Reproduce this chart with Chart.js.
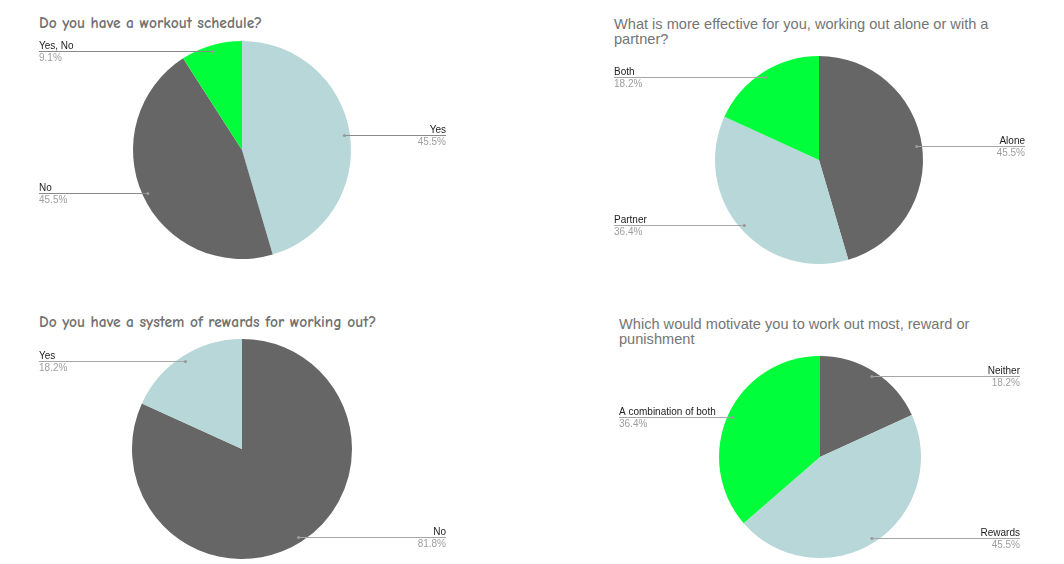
<!DOCTYPE html>
<html>
<head>
<meta charset="utf-8">
<script src="https://cdn.jsdelivr.net/npm/chart.js@4/dist/chart.umd.min.js"></script>
<style>
  html, body { margin: 0; padding: 0; background: #ffffff; }
  #wrap { position: relative; width: 1064px; height: 564px; overflow: hidden; }
  canvas { position: absolute; }
  .title { position: absolute; color: #6f6f6f; white-space: nowrap; }
  .comic { font-family: "Comic Sans MS", "Comic Neue", "DejaVu Sans", sans-serif; font-size: 15.5px; line-height: 17px; font-weight: bold; color: #707070; }
  .sans { font-family: "Liberation Sans", Arial, sans-serif; font-size: 14.6px; line-height: 14.5px; color: #757575; }
</style>
</head>
<body>
<div id="wrap">
  <div class="title comic" style="left:39px; top:15px;">Do you have a workout schedule?</div>
  <div class="title sans" style="left:614px; top:17px;">What is more effective for you, working out alone or with a<br>partner?</div>
  <div class="title comic" style="left:39px; top:314px;">Do you have a system of rewards for working out?</div>
  <div class="title sans" style="left:619px; top:317px;">Which would motivate you to work out most, reward or<br>punishment</div>
  <canvas id="c1" width="532" height="282" style="left:0px; top:0px;"></canvas>
  <canvas id="c2" width="532" height="282" style="left:532px; top:0px;"></canvas>
  <canvas id="c3" width="532" height="282" style="left:0px; top:282px;"></canvas>
  <canvas id="c4" width="532" height="282" style="left:532px; top:282px;"></canvas>
</div>
<script>
// ---- data ----
const scheduleLabels = ['Yes', 'No', 'Yes, No'];
const scheduleValues = [45.5, 45.5, 9.1];

const partnerLabels = ['Alone', 'Partner', 'Both'];
const partnerValues = [45.5, 36.4, 18.2];

const rewardsSystemLabels = ['No', 'Yes'];
const rewardsSystemValues = [81.8, 18.2];

const motivateLabels = ['Neither', 'Rewards', 'A combination of both'];
const motivateValues = [18.2, 45.5, 36.4];

// ---- styles ----
const LIGHT = '#b7d7d8';
const GRAY = '#666666';
const GREEN = '#00ff3a';

const leaderPlugin = {
  id: 'leader',
  afterDatasetsDraw(chart, args, opts) {
    const ctx = chart.ctx;
    const meta = chart.getDatasetMeta(0);
    const ds = chart.data.datasets[0];
    meta.data.forEach((arc, i) => {
      const p = arc.getProps(['x', 'y', 'startAngle', 'endAngle', 'outerRadius'], true);
      const mid = (p.startAngle + p.endAngle) / 2;
      const px = p.x + Math.cos(mid) * p.outerRadius * 0.95;
      const py = Math.round(p.y + Math.sin(mid) * p.outerRadius * 0.95) + 0.5;
      const right = Math.cos(mid) > 0;
      const lx = right ? opts.rightX : opts.leftX;
      ctx.save();
      ctx.strokeStyle = opts.lineColor || '#a6a6a6';
      ctx.lineWidth = 1;
      ctx.beginPath();
      ctx.moveTo(px, py);
      ctx.lineTo(lx, py);
      ctx.stroke();
      ctx.fillStyle = '#9a9a9a';
      ctx.beginPath();
      ctx.arc(px, py, 1.6, 0, Math.PI * 2);
      ctx.fill();
      ctx.font = '10px "Liberation Sans", Arial, sans-serif';
      ctx.textAlign = right ? 'right' : 'left';
      ctx.textBaseline = 'alphabetic';
      ctx.fillStyle = '#222222';
      ctx.fillText(chart.data.labels[i], lx, py - 2.5);
      ctx.fillStyle = '#9e9e9e';
      ctx.fillText(ds.data[i].toFixed(1) + '%', lx, py + 9);
      ctx.restore();
    });
  }
};

function makePie(id, labels, values, colors, padding, leader) {
  new Chart(document.getElementById(id), {
    type: 'pie',
    data: {
      labels: labels,
      datasets: [{
        data: values,
        backgroundColor: colors,
        borderWidth: 0,
        hoverOffset: 0,
        offset: 0
      }]
    },
    options: {
      responsive: false,
      animation: false,
      events: [],
      layout: { padding: padding },
      plugins: {
        legend: { display: false },
        tooltip: { enabled: false },
        title: { display: false },
        leader: leader
      }
    },
    plugins: [leaderPlugin]
  });
}

makePie('c1', scheduleLabels, scheduleValues, [LIGHT, GRAY, GREEN],
  { left: 133, right: 181, top: 41, bottom: 23 },
  { leftX: 39, rightX: 446, lineColor: '#8a8a8a' });

makePie('c2', partnerLabels, partnerValues, [GRAY, LIGHT, GREEN],
  { left: 183, right: 141, top: 56, bottom: 18 },
  { leftX: 82, rightX: 493 });

makePie('c3', rewardsSystemLabels, rewardsSystemValues, [GRAY, LIGHT],
  { left: 132, right: 180, top: 57, bottom: 5 },
  { leftX: 39, rightX: 446 });

makePie('c4', motivateLabels, motivateValues, [GRAY, LIGHT, GREEN],
  { left: 187, right: 143, top: 74, bottom: 6 },
  { leftX: 87, rightX: 488 });
</script>
</body>
</html>
